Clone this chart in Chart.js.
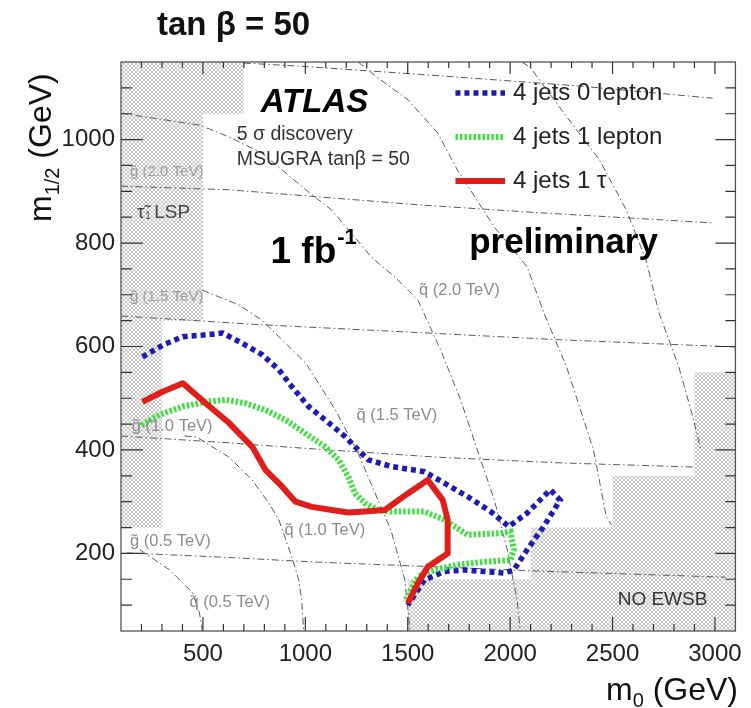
<!DOCTYPE html>
<html>
<head>
<meta charset="utf-8">
<title>tan β = 50</title>
<script src="https://cdn.jsdelivr.net/npm/chart.js@4.4.1/dist/chart.umd.min.js"></script>
<style>
  body { margin: 0; background: #fff; }
  canvas { display: block; }
</style>
</head>
<body>
<canvas id="grafico" width="751" height="708"></canvas>
<script>
// limites dos eixos (GeV)
const xMin = 100, xMax = 3100;
const yMin = 50, yMax = 1150;
const xTickLabels = [500, 1000, 1500, 2000, 2500, 3000];
const yTickLabels = [200, 400, 600, 800, 1000];

// curvas de descoberta 5 sigma: m0 e m1/2
const zeroLepM0  = [205, 305, 402, 499, 596, 693, 790, 871, 935, 1016, 1097, 1194, 1258, 1307, 1420, 1582, 1679, 1792, 1905, 1994, 2083, 2196, 2244, 2164, 2083, 2018, 1970, 1873, 1776, 1679, 1582, 1500];
const zeroLepM12 = [580, 603, 619, 622, 626, 606, 584, 555, 522, 484, 458, 426, 400, 381, 368, 358, 336, 310, 281, 252, 278, 323, 303, 252, 207, 168, 162, 165, 168, 165, 149, 100];

const umLepM0  = [200, 289, 402, 515, 612, 709, 806, 903, 1000, 1097, 1162, 1210, 1243, 1291, 1355, 1404, 1582, 1679, 1792, 1953, 2002, 2018, 2002, 1873, 1743, 1630, 1549, 1485];
const umLepM12 = [448, 468, 484, 493, 497, 490, 477, 458, 432, 406, 381, 348, 316, 297, 284, 281, 281, 265, 236, 239, 242, 207, 187, 184, 178, 168, 155, 107];

const umTauM0  = [205, 305, 402, 515, 628, 741, 806, 887, 952, 1032, 1129, 1210, 1291, 1388, 1501, 1598, 1671, 1695, 1695, 1598, 1549, 1501];
const umTauM12 = [493, 513, 529, 490, 452, 406, 361, 329, 300, 290, 284, 279, 281, 284, 316, 342, 303, 265, 200, 174, 142, 104];

// regioes excluidas (hachuradas)
const stauLsp = [[100, 250], [300, 250], [300, 650], [500, 650], [500, 1050], [700, 1050], [700, 1150]];
const noEwsb  = [[1500, 50], [1500, 150], [2100, 150], [2100, 250], [2500, 250], [2500, 350], [2900, 350], [2900, 550], [3100, 550]];

// linhas de massa constante do gluino e do squark
const gluino2500 = [[700, 1148], [968, 1142], [1598, 1125], [2325, 1104], [2989, 1080]];
const gluino2000 = [[100, 910], [628, 903], [1549, 874], [2083, 860], [2989, 839]];
const gluino1500 = [[100, 659], [788, 642], [1598, 626], [2243, 613], [3100, 599]];
const gluino1000 = [[100, 427], [580, 415], [968, 404], [1646, 386], [2243, 375], [2892, 367]];
const gluino500  = [[129, 201], [580, 193], [1065, 183], [1646, 174], [2131, 166], [3052, 154]];

const squark500  = [[192, 207], [338, 168], [449, 124], [483, 85], [497, 52]];
const squark1000 = [[410, 427], [468, 425], [628, 386], [740, 342], [822, 297], [871, 265], [934, 193], [968, 149], [982, 110], [992, 52]];
const squark1500 = [[497, 709], [677, 680], [788, 651], [1002, 568], [1147, 477], [1258, 394], [1355, 303], [1418, 245], [1486, 149], [1511, 52]];
const squark2000 = [[100, 1051], [483, 1028], [628, 1005], [788, 974], [1002, 903], [1128, 864], [1225, 819], [1322, 773], [1438, 734], [1549, 690], [1661, 593], [1758, 497], [1840, 400], [1923, 303], [1986, 207], [2034, 110], [2049, 52]];
const squark2500 = [[1258, 1150], [1355, 1119], [1501, 1077], [1646, 1013], [1743, 941], [1923, 831], [2083, 754], [2165, 665], [2276, 560], [2407, 400], [2470, 270], [2495, 255]];
const squark3000 = [[2058, 1150], [2097, 1140], [2276, 1044], [2436, 961], [2567, 864], [2664, 767], [2727, 665], [2824, 560], [2892, 464], [2931, 400]];

const nomes = ['4 jets 0 lepton', '4 jets 1 lepton', '4 jets 1 \u03c4'];

const FONTE = '"Liberation Sans", Arial, sans-serif';
const til = '\u0303';

const canvas = document.getElementById('grafico');
const ctx = canvas.getContext('2d');

// padrao quadriculado cinza
function criaHachura() {
    const c = document.createElement('canvas');
    c.width = 4; c.height = 4;
    const g = c.getContext('2d');
    g.strokeStyle = 'rgba(110,110,110,0.5)';
    g.lineWidth = 0.8;
    g.beginPath();
    g.moveTo(0, 0); g.lineTo(4, 4);
    g.moveTo(4, 0); g.lineTo(0, 4);
    g.stroke();
    return ctx.createPattern(c, 'repeat');
}
const hachura = criaHachura();

const pares = (xs, ys) => xs.map((x, i) => ({x: x, y: ys[i]}));
const pontos = lista => lista.map(p => ({x: p[0], y: p[1]}));

function regiao(lista, fill) {
    return {
        data: pontos(lista), fill: fill, backgroundColor: hachura,
        borderWidth: 0, pointRadius: 0, order: 10
    };
}
function contorno(lista) {
    return {
        data: pontos(lista), borderColor: '#5a5a5a', borderWidth: 1,
        borderDash: [7, 3, 1.5, 3], pointRadius: 0, fill: false, order: 5
    };
}

const sinal = [
    {label: nomes[0], data: pares(zeroLepM0, zeroLepM12), borderColor: '#1c1cb4', borderWidth: 5.5, borderDash: [5, 4], pointRadius: 0, fill: false, order: 3},
    {label: nomes[1], data: pares(umLepM0, umLepM12), borderColor: '#3fe03f', borderWidth: 6, borderDash: [2.5, 2], pointRadius: 0, fill: false, order: 2},
    {label: nomes[2], data: pares(umTauM0, umTauM12), borderColor: '#e01e1a', borderWidth: 6, borderJoinStyle: 'round', pointRadius: 0, fill: false, order: 1}
];

// texto posicionado pelas escalas
function texto(chart, s, x, y, font, cor, align, base) {
    const c = chart.ctx;
    c.save();
    c.font = font;
    c.fillStyle = cor;
    c.textAlign = align || 'left';
    c.textBaseline = base || 'middle';
    c.fillText(s, chart.scales.x.getPixelForValue(x), chart.scales.y.getPixelForValue(y));
    c.restore();
}

const anotacoes = {
    id: 'anotacoes',
    afterDatasetsDraw(chart) {
        const c = chart.ctx;
        const sx = chart.scales.x, sy = chart.scales.y;
        const cinza = '#8c8c8c';
        texto(chart, 'g' + til + ' (2.0 TeV)', 144, 937, '15px ' + FONTE, '#a0a0a0');
        texto(chart, 'g' + til + ' (1.5 TeV)', 144, 696, '15px ' + FONTE, '#a0a0a0');
        texto(chart, 'g' + til + ' (1.0 TeV)', 153, 446, '16.5px ' + FONTE, cinza);
        texto(chart, 'g' + til + ' (0.5 TeV)', 144, 224, '16.5px ' + FONTE, cinza);
        texto(chart, 'q' + til + ' (2.0 TeV)', 1555, 709, '16.5px ' + FONTE, cinza);
        texto(chart, 'q' + til + ' (1.5 TeV)', 1250, 466, '16.5px ' + FONTE, cinza);
        texto(chart, 'q' + til + ' (1.0 TeV)', 898, 245, '16.5px ' + FONTE, cinza);
        texto(chart, 'q' + til + ' (0.5 TeV)', 434, 106, '16.5px ' + FONTE, cinza);
        texto(chart, 'NO EWSB', 2525, 110, '19px ' + FONTE, '#333');

        // stau LSP
        texto(chart, '\u03c4' + til, 178, 858, '19px ' + FONTE, '#444');
        texto(chart, '1', 218, 852, '10px ' + FONTE, '#444');
        texto(chart, 'LSP', 262, 858, '19px ' + FONTE, '#444');

        texto(chart, 'ATLAS', 782, 1053, 'italic bold 33px ' + FONTE, '#000', 'left', 'alphabetic');
        texto(chart, '5 \u03c3 discovery', 665, 1009, '19.5px ' + FONTE, '#333');
        texto(chart, 'MSUGRA tan\u03b2 = 50', 665, 961, '19.5px ' + FONTE, '#333');
        texto(chart, '1 fb', 830, 761, 'bold 37px ' + FONTE, '#000', 'left', 'alphabetic');
        c.save();
        c.font = 'bold 37px ' + FONTE;
        const wfb = c.measureText('1 fb').width;
        c.font = 'bold 22px ' + FONTE;
        c.fillStyle = '#000';
        c.fillText('-1', sx.getPixelForValue(830) + wfb + 1, sy.getPixelForValue(761) - 19);
        c.restore();
        texto(chart, 'preliminary', 1800, 781, 'bold 35px ' + FONTE, '#000', 'left', 'alphabetic');

        // legenda
        const linhas = [1090, 1005, 920];
        chart.data.datasets.filter(d => d.label).forEach((d, i) => {
            const yy = sy.getPixelForValue(linhas[i]);
            c.save();
            c.strokeStyle = d.borderColor;
            c.lineWidth = d.borderWidth;
            c.setLineDash(d.borderDash || []);
            c.beginPath();
            c.moveTo(sx.getPixelForValue(1733), yy);
            c.lineTo(sx.getPixelForValue(1975), yy);
            c.stroke();
            c.restore();
            texto(chart, d.label, 2014, linhas[i], '24px ' + FONTE, '#222');
        });
    },
    afterDraw(chart) {
        const c = chart.ctx;
        const a = chart.chartArea;
        const sx = chart.scales.x, sy = chart.scales.y;
        c.save();
        c.strokeStyle = '#555';
        c.lineWidth = 1.3;
        c.strokeRect(a.left, a.top, a.right - a.left, a.bottom - a.top);
        // marcas internas dos eixos
        c.lineWidth = 1.2;
        c.strokeStyle = '#333';
        c.beginPath();
        for (let v = 200; v < xMax; v += 100) {
            const px = sx.getPixelForValue(v);
            const maior = v % 500 === 0;
            c.moveTo(px, a.bottom); c.lineTo(px, a.bottom - (maior ? 14 : 7));
            c.moveTo(px, a.top); c.lineTo(px, a.top + (maior ? 12 : 6));
        }
        for (let v = 100; v < yMax; v += 50) {
            const py = sy.getPixelForValue(v);
            const maior = v % 200 === 0;
            c.moveTo(a.left, py); c.lineTo(a.left + (maior ? 22 : 11), py);
            c.moveTo(a.right, py); c.lineTo(a.right - (maior ? 20 : 10), py);
        }
        c.stroke();

        // titulos
        c.fillStyle = '#111';
        c.font = 'bold 33px ' + FONTE;
        c.textBaseline = 'alphabetic';
        c.fillText('tan \u03b2 = 50', 157, 35);

        // m0 (GeV)
        const fT = '32px ' + FONTE, fS = '20px ' + FONTE;
        c.font = fT;
        const wGev = c.measureText(' (GeV)').width;
        const wm = c.measureText('m').width;
        c.font = fS;
        const w0 = c.measureText('0').width;
        const x0 = 738 - wGev - w0 - wm;
        c.font = fT;
        c.fillText('m', x0, 700);
        c.font = fS;
        c.fillText('0', x0 + wm, 707);
        c.font = fT;
        c.fillText(' (GeV)', x0 + wm + w0, 700);

        // m1/2 (GeV)
        c.translate(51, 222);
        c.rotate(-Math.PI / 2);
        c.fillText('m', 0, 0);
        c.font = fS;
        c.fillText('1/2', wm, 8);
        const w12 = c.measureText('1/2').width;
        c.font = fT;
        c.fillText(' (GeV)', wm + w12, 0);
        c.restore();
    }
};

const grafico = new Chart(ctx, {
    type: 'line',
    data: {
        datasets: [
            regiao(stauLsp, 'end'),
            regiao(noEwsb, 'start'),
            contorno(gluino2500), contorno(gluino2000), contorno(gluino1500),
            contorno(gluino1000), contorno(gluino500),
            contorno(squark500), contorno(squark1000), contorno(squark1500),
            contorno(squark2000), contorno(squark2500), contorno(squark3000),
            ...sinal
        ]
    },
    options: {
        responsive: false,
        animation: false,
        events: [],
        layout: {padding: {top: 62, right: 11, left: 0, bottom: 0}},
        elements: {line: {tension: 0}},
        scales: {
            x: {
                type: 'linear', min: xMin, max: xMax,
                afterBuildTicks: s => { s.ticks = xTickLabels.map(v => ({value: v})); },
                afterFit: s => { s.height = 77; },
                grid: {display: false, drawTicks: false},
                border: {display: false},
                ticks: {padding: 9, color: '#222', font: {family: FONTE, size: 24}, callback: v => String(v)}
            },
            y: {
                type: 'linear', min: yMin, max: yMax,
                afterBuildTicks: s => { s.ticks = yTickLabels.map(v => ({value: v})); },
                afterFit: s => { s.width = 121; },
                grid: {display: false, drawTicks: false},
                border: {display: false},
                ticks: {padding: 6, color: '#222', font: {family: FONTE, size: 24}, callback: v => String(v)}
            }
        },
        plugins: {
            legend: {display: false},
            tooltip: {enabled: false}
        }
    },
    plugins: [anotacoes]
});
</script>
</body>
</html>
